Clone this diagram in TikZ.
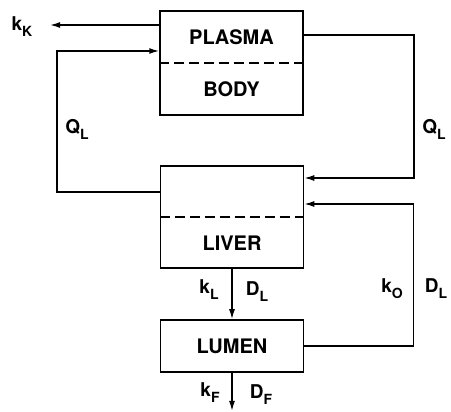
\documentclass[tikz,border=0pt]{standalone}
\usepackage{fontspec}
\setmainfont{TeX Gyre Heros}
\usetikzlibrary{arrows.meta, positioning}
\newcommand{\pksub}[1]{\raisebox{-6pt}{\fontsize{14}{14}\selectfont #1}}
\tikzset{
  pkbox/.style={rectangle, draw, line width=1.5pt, minimum width=143pt,
                inner sep=0pt},
  pktext/.style={font=\fontsize{20}{22}\selectfont\bfseries, inner sep=0pt},
  pklabel/.style={font=\fontsize{19}{22}\selectfont\bfseries, inner sep=0pt},
  pkdash/.style={line width=1.5pt, dash pattern=on 10pt off 5pt},
  pkarrow/.style={-{Latex[length=10pt,width=6pt]}, line width=1.5pt},
}
\begin{document}
\begin{tikzpicture}[x=1pt, y=-1pt]
  \useasboundingbox (0,0) rectangle (451,412);
  % compartments
  \node[pkbox, minimum height=104pt] (plasmabody) at (231.5, 63) {};
  \node[pkbox, minimum height=102pt] (liver) at (232, 217) {};
  \node[pkbox, minimum height=52pt] (lumen) at (232, 346) {};
  \draw[pkdash] (plasmabody.west) -- (plasmabody.east);
  \draw[pkdash] (liver.west) -- (liver.east);
  \node[pktext] (plasma) at (231.5, 37) {PLASMA};
  \node[pktext] (body) at (231.5, 89) {BODY};
  \node[pktext] (livertxt) at (232, 243) {LIVER};
  \node[pktext] (lumentxt) at (232, 346) {LUMEN};
  % free ends
  \coordinate (kkend) at (50, 25);
  \coordinate (faeces) at (232, 411);
  % flows
  \draw[pkarrow] ([yshift=38pt]plasmabody.west) -- (kkend);
  \draw[pkarrow] ([yshift=25pt]liver.west) -- ++(-103,0)
    |- ([yshift=12pt]plasmabody.west);
  \draw[pkarrow] ([yshift=28pt]plasmabody.east) -- ++(110,0)
    |- ([yshift=39pt]liver.east);
  \draw[pkarrow] (lumen.east) -- ++(109,0) |- ([yshift=13pt]liver.east);
  \draw[pkarrow] (liver.south) -- (lumen.north);
  \draw[pkarrow] (lumen.south) -- (faeces);
  % labels
  \node[pklabel] (kk) at (22, 27) {k\pksub{K}};
  \node[pklabel] (qlleft) at (77, 129) {Q\pksub{L}};
  \node[pklabel] (qlright) at (434, 129) {Q\pksub{L}};
  \node[pklabel] (kl) at (209, 290) {k\pksub{L}};
  \node[pklabel] (dl) at (257, 292) {D\pksub{L}};
  \node[pklabel] (ko) at (392, 289) {k\pksub{O}};
  \node[pklabel] (dlr) at (436, 289) {D\pksub{L}};
  \node[pklabel] (kf) at (210, 393) {k\pksub{F}};
  \node[pklabel] (df) at (261, 395) {D\pksub{F}};
\end{tikzpicture}
\end{document}
